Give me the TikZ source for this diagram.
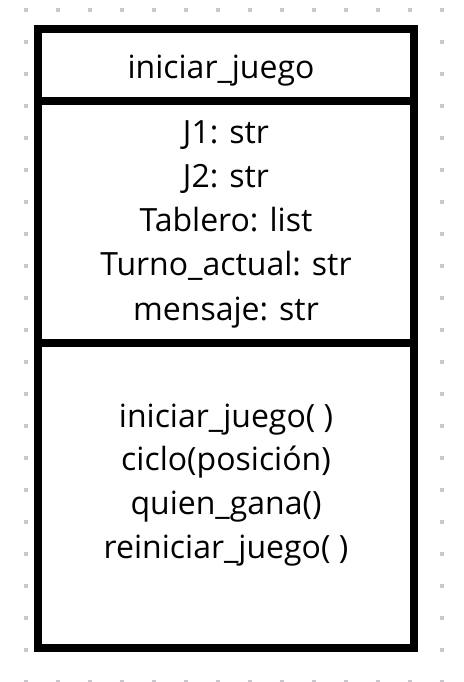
\documentclass[tikz,border=0pt]{standalone}
\usepackage{fontspec}
\setmainfont{Open Sans}
\definecolor{griddot}{HTML}{C4C9D5}
\tikzset{
  umltext/.style={font=\fontsize{24}{28}\selectfont, inner sep=0pt, anchor=base},
  umlframe/.style={line width=6pt, fill=white},
  umlrule/.style={line width=6pt}
}
\begin{document}
\begin{tikzpicture}[x=0.75pt, y=-0.75pt]
  %
  % Canvas
  \useasboundingbox (0,0) rectangle (464,682);
  %
  % Dotted grid behind the class box
  \foreach \i in {0,...,13}
    \foreach \j in {0,...,21}
      \fill[griddot] ({26+32*\i-1.75},{10+32*\j-1.75}) rectangle ++(3.5,3.5);
  %
  % Class box with its three compartments
  \draw[umlframe] (38,29) rectangle (414,648);
  \coordinate (sepA-l) at (38,101);
  \coordinate (sepA-r) at (414,101);
  \coordinate (sepB-l) at (38,343);
  \coordinate (sepB-r) at (414,343);
  \draw[umlrule] (sepA-l) -- (sepA-r);
  \draw[umlrule] (sepB-l) -- (sepB-r);
  %
  % Name
  \node[umltext] (nombre) at (221,78) {iniciar\_juego};
  % Attributes
  \foreach \txt [count=\k] in {{J1: str},{J2: str},{Tablero: list},{Turno\_actual: str},{mensaje: str}}
    \node[umltext] (attr\k) at (226,{143+44.25*(\k-1)}) {\txt};
  % Methods
  \foreach \txt [count=\k] in {{iniciar\_juego( )},{ciclo(posición)},{quien\_gana()},{reiniciar\_juego( )}}
    \node[umltext] (met\k) at (226,{427+43.7*(\k-1)}) {\txt};
\end{tikzpicture}
\end{document}
